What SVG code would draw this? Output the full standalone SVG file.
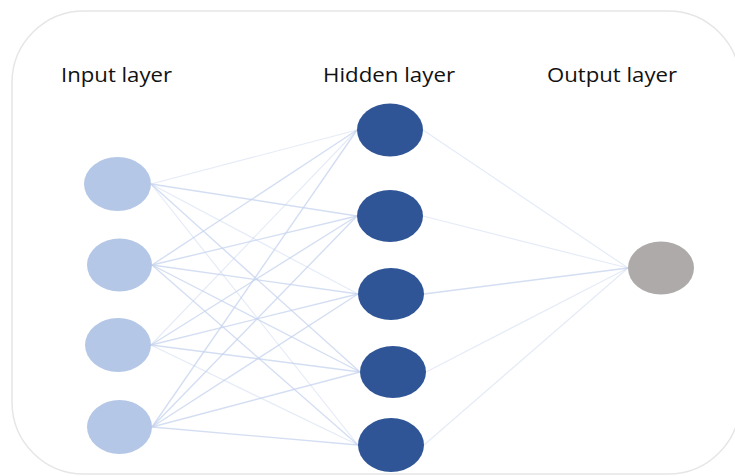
<svg xmlns="http://www.w3.org/2000/svg" width="735" height="476" viewBox="0 0 735 476">
<style>
.lbl{font-family:"Open Sans","Liberation Sans",sans-serif;font-size:20px;fill:#111111}
.in{fill:#b4c7e7}
.hid{fill:#2f5597}
.out{fill:#aeaaaa}
.c{stroke:#c5d3ee;stroke-width:1.4;fill:none;opacity:0.75}
.c2{stroke:#c5d3ee;stroke-width:1.2;fill:none;opacity:0.45}
</style>
<rect x="12" y="11" width="728" height="463" rx="72" ry="72" fill="#ffffff" stroke="#e6e6e6" stroke-width="1.5"/>
<text class="lbl" x="61" y="82" textLength="111" lengthAdjust="spacingAndGlyphs">Input layer</text>
<text class="lbl" x="323" y="82" textLength="132" lengthAdjust="spacingAndGlyphs">Hidden layer</text>
<text class="lbl" x="547" y="82" textLength="130" lengthAdjust="spacingAndGlyphs">Output layer</text>
<g id="connectors">
<line class="c2" x1="151" y1="184" x2="357" y2="130"/>
<line class="c" x1="151" y1="184" x2="357" y2="216"/>
<line class="c2" x1="151" y1="184" x2="358" y2="294"/>
<line class="c" x1="151" y1="184" x2="360" y2="372"/>
<line class="c2" x1="151" y1="184" x2="358" y2="445"/>
<line class="c" x1="152" y1="265" x2="357" y2="130"/>
<line class="c" x1="152" y1="265" x2="357" y2="216"/>
<line class="c" x1="152" y1="265" x2="358" y2="294"/>
<line class="c" x1="152" y1="265" x2="360" y2="372"/>
<line class="c" x1="152" y1="265" x2="358" y2="445"/>
<line class="c2" x1="151" y1="345" x2="357" y2="130"/>
<line class="c" x1="151" y1="345" x2="357" y2="216"/>
<line class="c" x1="151" y1="345" x2="358" y2="294"/>
<line class="c" x1="151" y1="345" x2="360" y2="372"/>
<line class="c2" x1="151" y1="345" x2="358" y2="445"/>
<line class="c" x1="152" y1="427" x2="357" y2="130"/>
<line class="c" x1="152" y1="427" x2="357" y2="216"/>
<line class="c" x1="152" y1="427" x2="358" y2="294"/>
<line class="c" x1="152" y1="427" x2="360" y2="372"/>
<line class="c" x1="152" y1="427" x2="358" y2="445"/>
<line class="c2" x1="423" y1="130" x2="628" y2="268"/>
<line class="c2" x1="423" y1="216" x2="628" y2="268"/>
<line class="c" x1="424" y1="294" x2="628" y2="268"/>
<line class="c2" x1="426" y1="372" x2="628" y2="268"/>
<line class="c2" x1="424" y1="445" x2="628" y2="268"/>
</g>
<g id="in1"><ellipse class="in" cx="117.5" cy="184" rx="33.5" ry="27"/></g>
<g id="in2"><ellipse class="in" cx="119.5" cy="265" rx="32.5" ry="26.5"/></g>
<g id="in3"><ellipse class="in" cx="118" cy="345" rx="33" ry="27"/></g>
<g id="in4"><ellipse class="in" cx="119.5" cy="427" rx="32.5" ry="27"/></g>
<g id="h1"><ellipse class="hid" cx="390" cy="130" rx="33" ry="26.5"/></g>
<g id="h2"><ellipse class="hid" cx="390" cy="216" rx="33" ry="26"/></g>
<g id="h3"><ellipse class="hid" cx="391" cy="294" rx="33" ry="26"/></g>
<g id="h4"><ellipse class="hid" cx="393" cy="372" rx="33" ry="26"/></g>
<g id="h5"><ellipse class="hid" cx="391" cy="445" rx="33" ry="27"/></g>
<g id="out1"><ellipse class="out" cx="661" cy="268" rx="33" ry="26.5"/></g>
</svg>
